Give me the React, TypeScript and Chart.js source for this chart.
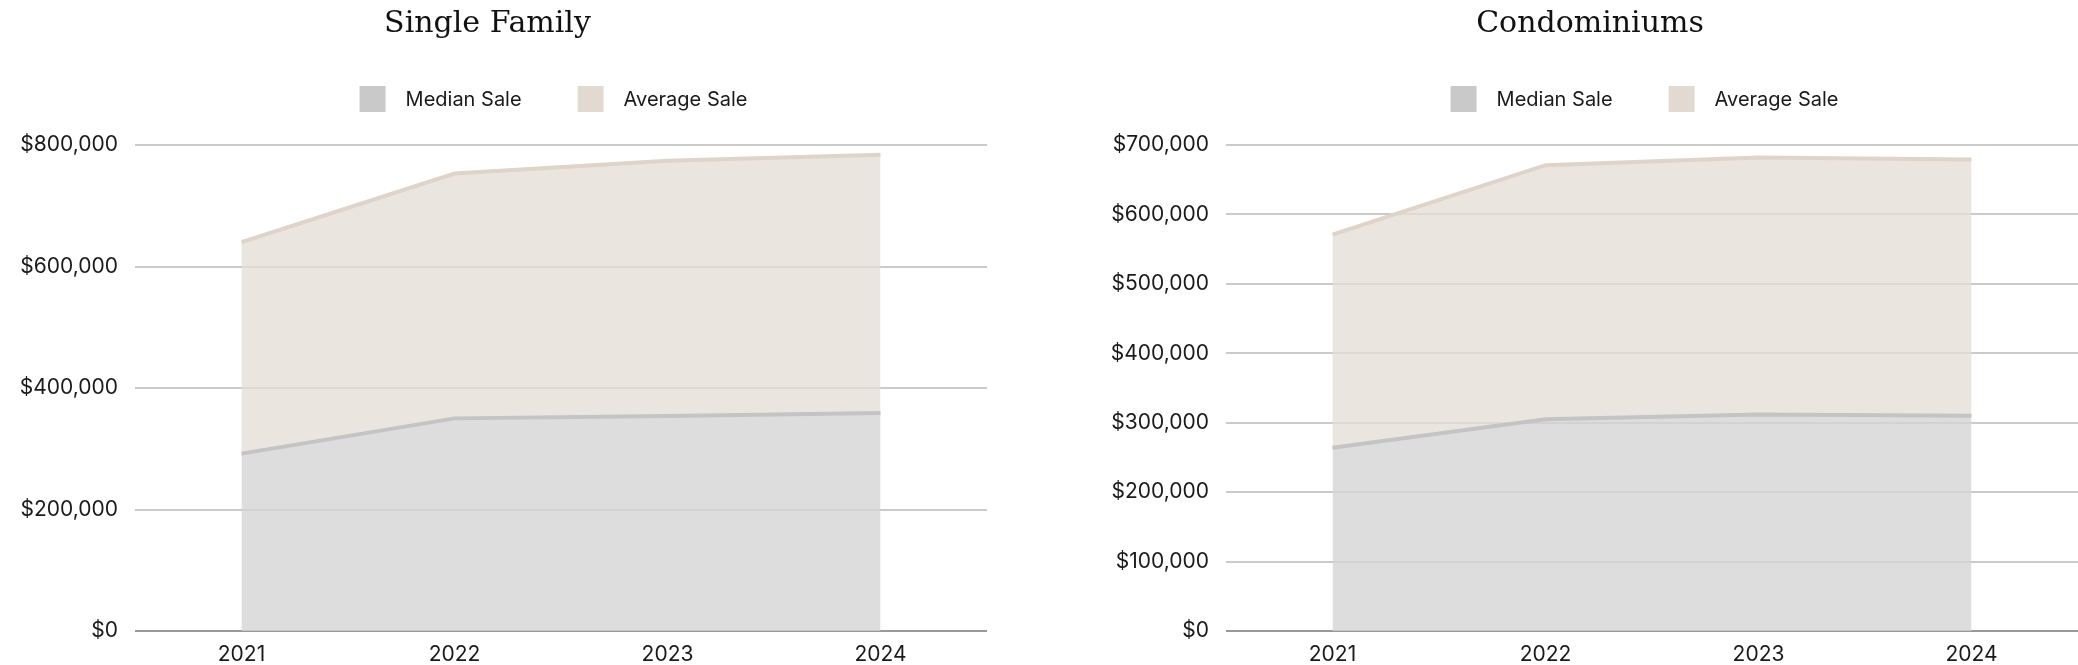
import React, { useEffect, useRef } from 'react';
import { Chart, registerables } from 'chart.js';

Chart.register(...registerables);

// ---- data ----
const YEARS = ['2021', '2022', '2023', '2024'];
const SERIES_LABELS = ['Median Sale', 'Average Sale'];

const SF_MEDIAN = [292000, 350000, 354000, 359000];
const SF_AVERAGE = [640000, 753000, 774000, 784000];
const SF_MAX = 800000;
const SF_STEP = 200000;

const CONDO_MEDIAN = [264000, 305000, 312000, 310000];
const CONDO_AVERAGE = [571000, 671000, 682000, 679000];
const CONDO_MAX = 700000;
const CONDO_STEP = 100000;

// ---- styles ----
const SANS = 'Inter, "DejaVu Sans", sans-serif';
const SERIF = '"DejaVu Serif", serif';

const COLORS = {
  medianFill: 'rgba(211,211,211,0.78)',
  medianLine: '#c4c4c4',
  avgFill: 'rgba(228,221,213,0.76)',
  avgLine: '#ded4c9',
  medianKey: '#c9c9c9',
  avgKey: '#e2dad1',
  grid: '#cbcbcb',
  zero: '#999999',
  text: '#1a1a1a',
  title: '#111111',
};

const refLegend = {
  id: 'refLegend',
  afterDraw(chart: any, _args: any, opts: any) {
    const { ctx, chartArea } = chart;
    const items = opts.items || [];
    ctx.save();
    ctx.font = `${opts.fontSize}px ${opts.fontFamily}`;
    ctx.textBaseline = 'middle';
    ctx.textAlign = 'left';
    const widths = items.map(
      (it: any) => opts.box + opts.textGap + ctx.measureText(it.text).width
    );
    const total =
      widths.reduce((a: number, b: number) => a + b, 0) +
      opts.itemGap * (items.length - 1);
    let x = (chartArea.left + chartArea.right) / 2 + opts.shiftX - total / 2;
    const top = chartArea.top - opts.above;
    items.forEach((it: any, i: number) => {
      ctx.fillStyle = it.color;
      ctx.fillRect(x, top, opts.box, opts.box);
      ctx.fillStyle = opts.color;
      ctx.fillText(it.text, x + opts.box + opts.textGap, top + opts.box / 2 + 1);
      x += widths[i] + opts.itemGap;
    });
    ctx.restore();
  },
};

type PanelProps = {
  title: string;
  median: number[];
  average: number[];
  max: number;
  step: number;
  left: number;
  width: number;
  padRight: number;
  axisWidth: number;
};

function AreaPanel(p: PanelProps) {
  const ref = useRef<HTMLCanvasElement>(null);
  useEffect(() => {
    if (!ref.current) return;
    const chart = new Chart(ref.current, {
      type: 'line',
      data: {
        labels: YEARS,
        datasets: [
          {
            label: SERIES_LABELS[0],
            data: p.median,
            fill: 'origin',
            backgroundColor: COLORS.medianFill,
            borderColor: COLORS.medianLine,
            borderWidth: 4,
            pointRadius: 0,
            tension: 0,
          },
          {
            label: SERIES_LABELS[1],
            data: p.average,
            fill: '-1',
            backgroundColor: COLORS.avgFill,
            borderColor: COLORS.avgLine,
            borderWidth: 4,
            pointRadius: 0,
            tension: 0,
          },
        ],
      },
      options: {
        responsive: false,
        animation: false,
        layout: { padding: { left: 0, right: p.padRight, top: 0, bottom: 0 } },
        plugins: {
          legend: { display: false },
          tooltip: { enabled: false },
          title: {
            display: true,
            text: p.title,
            color: COLORS.title,
            font: { family: SERIF, size: 30, weight: 'normal' },
            padding: { top: 6, bottom: 103 },
          },
          refLegend: {
            items: [
              { text: SERIES_LABELS[0], color: COLORS.medianKey },
              { text: SERIES_LABELS[1], color: COLORS.avgKey },
            ],
            fontSize: 20,
            fontFamily: SANS,
            color: COLORS.text,
            box: 26,
            textGap: 20,
            itemGap: 56,
            shiftX: -7.5,
            above: 59,
          },
        } as any,
        scales: {
          x: {
            type: 'category',
            offset: true,
            grid: { display: false },
            border: { display: false },
            ticks: {
              font: { family: SANS, size: 21 },
              color: COLORS.text,
              padding: 3,
              maxRotation: 0,
            },
            afterFit(s: any) {
              s.height = 34;
            },
          },
          y: {
            min: 0,
            max: p.max,
            ticks: {
              stepSize: p.step,
              font: { family: SANS, size: 21 },
              color: COLORS.text,
              padding: 17,
              callback: (v: any) => '$' + Number(v).toLocaleString('en-US'),
            },
            grid: {
              color: (c: any) =>
                c.tick && c.tick.value === 0 ? COLORS.zero : COLORS.grid,
              lineWidth: 2,
              drawTicks: false,
            },
            border: { display: false },
            afterFit(s: any) {
              s.width = p.axisWidth;
            },
          },
        },
      },
      plugins: [refLegend as any],
    });
    return () => chart.destroy();
  }, []);
  return (
    <div style={{ position: 'absolute', left: p.left, top: 0, width: p.width, height: 665 }}>
      <canvas ref={ref} width={p.width} height={665} style={{ display: 'block' }} />
    </div>
  );
}

export default function App() {
  return (
    <div
      style={{
        position: 'absolute',
        left: 0,
        top: 0,
        width: 2078,
        height: 665,
        overflow: 'hidden',
        background: '#ffffff',
      }}
    >
      <AreaPanel
        title="Single Family"
        median={SF_MEDIAN}
        average={SF_AVERAGE}
        max={SF_MAX}
        step={SF_STEP}
        left={-12}
        width={1051}
        padRight={52}
        axisWidth={147}
      />
      <AreaPanel
        title="Condominiums"
        median={CONDO_MEDIAN}
        average={CONDO_AVERAGE}
        max={CONDO_MAX}
        step={CONDO_STEP}
        left={1102}
        width={976}
        padRight={0}
        axisWidth={124}
      />
    </div>
  );
}
